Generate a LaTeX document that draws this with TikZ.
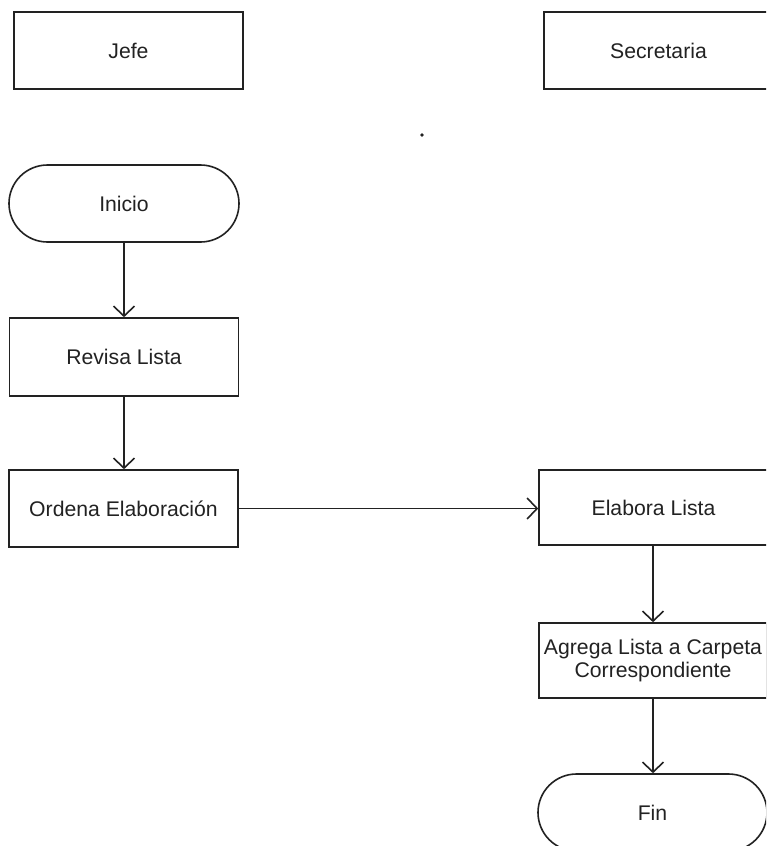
\documentclass[tikz,border=0pt]{standalone}
\usepackage{fontspec}
\setmainfont{Liberation Sans}
\usetikzlibrary{arrows.meta,shapes.misc}
\definecolor{ink}{HTML}{222222}
\begin{document}
\begin{tikzpicture}[x=1pt,y=-1pt,
  every node/.style={font=\fontsize{21.2}{25}\selectfont, text=ink},
  box/.style={draw=ink, line width=1.6pt, rectangle, minimum width=229pt,
    minimum height=77pt, inner sep=0pt, align=center},
  term/.style={draw=ink, line width=1.6pt, rounded rectangle, minimum width=230pt,
    minimum height=77pt, inner sep=0pt},
  flow/.style={draw=ink, line width=1.6pt, -{Straight Barb[length=10pt,width=21pt,line width=1.6pt]}}]
  \clip (0,0) rectangle (766,846);
  \fill[white] (0,0) rectangle (766,846);

  % lane headers
  \node[box] (jefe) at (128.5,50.5) {Jefe};
  \node[box] (secr) at (658.5,50.5) {Secretaria};

  % Jefe lane
  \node[term] (inicio) at (124,203.5) {Inicio};
  \node[box, minimum height=78pt] (revisa) at (124,357) {Revisa Lista};
  \node[box] (ordena) at (123.5,508.5) {Ordena Elaboración};

  % Secretaria lane
  \node[box, minimum height=75pt] (elabora) at (653.5,507.5) {Elabora Lista};
  \node[box, minimum height=75pt, minimum width=228pt] (agrega) at (653,660.5)
    {Agrega Lista a Carpeta\\[-2pt]Correspondiente};
  \node[term, minimum width=229pt] (fin) at (652.5,812.5) {Fin};

  \fill[ink] (422,135) circle (1.8pt);

  % connectors
  \draw[flow] (inicio.south -| revisa.north) -- (revisa.north);
  \draw[flow] (revisa.south) -- (ordena.north -| revisa.south);
  \draw[flow] (ordena.east) -- (elabora.west |- ordena.east);
  \draw[flow] (elabora.south -| agrega.north) -- (agrega.north);
  \draw[flow] (agrega.south) -- (fin.north -| agrega.south);
\end{tikzpicture}
\end{document}
